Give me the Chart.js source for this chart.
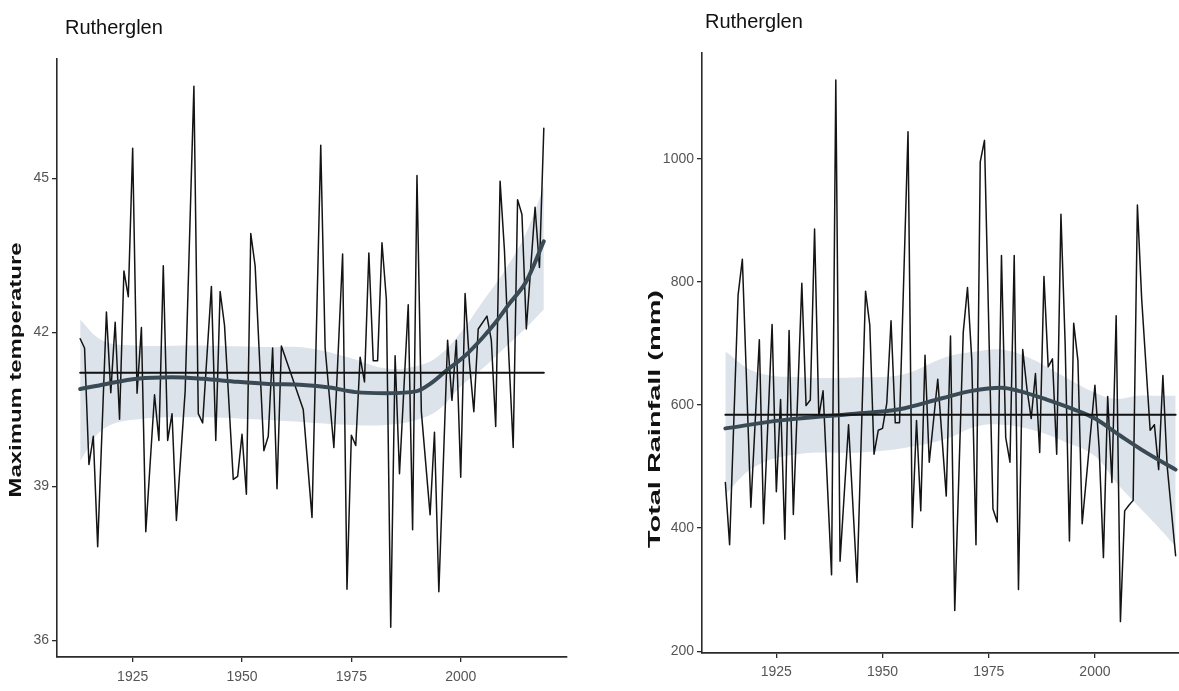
<!DOCTYPE html>
<html>
<head>
<meta charset="utf-8">
<script src="https://cdn.jsdelivr.net/npm/chart.js@4"></script>
<style>
  html, body { margin: 0; padding: 0; background: #fff; overflow: hidden; }
  body { width: 1179px; height: 691px; position: relative; }
  canvas { position: absolute; top: 0; }
  #temp-chart { left: 0; }
  #rain-chart { left: 590px; }
</style>
</head>
<body>
<canvas id="temp-chart" width="590" height="691"></canvas>
<canvas id="rain-chart" width="612" height="691"></canvas>
<script>
// Rutherglen - yearly maximum temperature and total rainfall

const yearTicks = [1925, 1950, 1975, 2000];
const tempTicks = [36, 39, 42, 45];
const rainTicks = [200, 400, 600, 800, 1000];

// maximum temperature (turning points of the yearly line)
const tempYears = [1913, 1914, 1915, 1916, 1917, 1919, 1920, 1921, 1922, 1923, 1924, 1925, 1926, 1927, 1928,
  1930, 1931, 1932, 1933, 1934, 1935, 1937, 1939, 1940, 1941, 1943, 1944, 1945, 1946, 1948, 1949, 1950,
  1951, 1952, 1953, 1955, 1956, 1957, 1958, 1959, 1964, 1966, 1968, 1969, 1971, 1973, 1974, 1975, 1976,
  1977, 1978, 1979, 1980, 1981, 1982, 1983, 1984, 1985, 1986, 1988, 1989, 1990, 1991, 1993, 1994, 1995,
  1997, 1998, 1999, 2000, 2001, 2002, 2003, 2004, 2006, 2007, 2008, 2009, 2010, 2011, 2012, 2013, 2014,
  2015, 2017, 2018, 2019];
const tempValues = [41.88, 41.7, 39.43, 39.98, 37.83, 42.4, 40.83, 42.2, 40.31, 43.2, 42.7, 45.59, 40.82, 42.1, 38.12,
  40.79, 39.9, 43.3, 39.9, 40.42, 38.34, 40.86, 46.8, 40.42, 40.24, 42.9, 39.9, 42.8, 42.14, 39.14, 39.2, 40.02,
  38.85, 43.93, 43.3, 39.7, 39.98, 41.7, 38.96, 41.74, 40.5, 38.4, 45.65, 41.7, 39.76, 43.53, 37.0, 40.0, 39.8,
  41.52, 41.04, 43.55, 41.45, 41.45, 43.75, 42.65, 36.26, 41.55, 39.25, 42.54, 38.16, 45.06, 40.46, 38.45, 40.06, 36.95,
  41.85, 40.68, 41.85, 39.18, 42.76, 41.41, 40.46, 42.07, 42.32, 41.85, 40.17, 44.95, 43.6, 41.55, 39.76, 44.59, 44.3,
  42.07, 44.44, 43.27, 45.98];
const tempMean = 41.22;
const tempSmoothYears = [1913, 1919, 1926, 1934, 1941, 1949, 1956, 1964, 1970, 1976, 1983, 1990, 1993, 1997, 2001, 2005, 2008, 2011, 2015, 2019];
const tempSmoothValues = [40.9, 41.0, 41.1, 41.13, 41.1, 41.04, 41.0, 40.98, 40.93, 40.84, 40.82, 40.86, 41.0, 41.28, 41.55, 41.9, 42.2, 42.55, 43.0, 43.78];
const tempBandYears = [1913, 1918, 1925, 1940, 1955, 1965, 1975, 1983, 1990, 1995, 2000, 2005, 2010, 2015, 2019];
const tempBandUpper = [42.25, 41.85, 41.75, 41.75, 41.72, 41.7, 41.5, 41.3, 41.35, 41.55, 42.0, 42.6, 43.2, 43.95, 44.85];
const tempBandLower = [39.5, 40.1, 40.3, 40.35, 40.3, 40.25, 40.2, 40.2, 40.3, 40.5, 40.95, 41.3, 41.7, 42.1, 42.45];

// total rainfall (mm)
const rainYears = [1913, 1914, 1916, 1917, 1919, 1921, 1922, 1924, 1925, 1926, 1927, 1928, 1929, 1931, 1932, 1933,
  1934, 1935, 1936, 1938, 1939, 1940, 1942, 1944, 1946, 1947, 1948, 1949, 1950, 1951, 1952, 1953, 1954, 1956,
  1957, 1958, 1959, 1960, 1961, 1963, 1965, 1966, 1967, 1969, 1970, 1971, 1972, 1973, 1974, 1976, 1977, 1978,
  1979, 1980, 1981, 1982, 1983, 1984, 1985, 1986, 1987, 1988, 1989, 1990, 1991, 1992, 1993, 1994, 1995, 1996,
  1997, 2000, 2001, 2002, 2003, 2004, 2005, 2006, 2007, 2008, 2009, 2010, 2011, 2013, 2014, 2015, 2016, 2017, 2019];
const rainValues = [474, 373, 779, 837, 434, 706, 407, 731, 459, 609, 382, 721, 422, 798, 599, 608,
  886, 581, 623, 324, 1128, 346, 568, 312, 785, 730, 520, 559, 562, 603, 737, 571, 571, 1044,
  401, 575, 428, 681, 507, 642, 452, 712, 266, 718, 791, 675, 373, 995, 1030, 431, 410, 843,
  547, 507, 843, 300, 690, 626, 578, 651, 523, 809, 662, 675, 520, 910, 697, 379, 733, 672,
  407, 632, 529, 352, 614, 474, 745, 248, 428, 437, 445, 925, 773, 559, 568, 495, 648, 501, 355];
const rainMean = 584;
const rainSmoothYears = [1913, 1926, 1942, 1954, 1964, 1971, 1978, 1982, 1989, 1995, 2000, 2006, 2012, 2019];
const rainSmoothValues = [562, 575, 585, 593, 611, 623, 628, 623, 608, 593, 578, 550, 523, 495];
const rainBandYears = [1913, 1920, 1930, 1945, 1955, 1965, 1972, 1978, 1985, 1993, 2000, 2005, 2010, 2015, 2019];
const rainBandUpper = [687, 654, 645, 645, 650, 678, 687, 690, 675, 645, 620, 610, 615, 615, 615];
const rainBandLower = [455, 500, 520, 523, 530, 545, 565, 568, 560, 540, 517, 474, 437, 401, 370];

const FONT = '"Liberation Sans", Arial, sans-serif';
const AXIS = '#2b2b2b';
const TICK = '#555';
const BAND_FILL = '#dde3ea';

Chart.defaults.font.family = FONT;

const pts = (xs, ys) => xs.map((x, i) => ({ x: x, y: ys[i] }));

// title and stretched y title, drawn on top of the chart
const textPlugin = {
  id: 'panelText',
  afterDraw(chart, args, o) {
    const ctx = chart.ctx;
    ctx.save();
    ctx.fillStyle = '#111';
    ctx.font = '20px ' + FONT;
    ctx.textAlign = 'left';
    ctx.textBaseline = 'middle';
    ctx.fillText(o.title, o.titleX, o.titleY);

    ctx.font = 'bold 17px ' + FONT;
    const w = ctx.measureText(o.yTitle).width;
    ctx.translate(o.yTitleX, o.yTitleY);
    ctx.rotate(-Math.PI / 2);
    ctx.scale(o.yTitleLen / w, 1);
    ctx.textAlign = 'center';
    ctx.fillText(o.yTitle, 0, 0);
    ctx.restore();
  }
};

function buildChart(id, opts) {
  const ctx = document.getElementById(id).getContext('2d');
  const first = opts.years[0];
  const last = opts.years[opts.years.length - 1];
  return new Chart(ctx, {
    type: 'line',
    data: {
      datasets: [
        { data: pts(opts.bandYears, opts.bandUpper), borderWidth: 0, backgroundColor: BAND_FILL, fill: '+1', tension: 0.4, order: 4 },
        { data: pts(opts.bandYears, opts.bandLower), borderWidth: 0, fill: false, tension: 0.4, order: 4 },
        { data: pts(opts.years, opts.values), borderColor: '#141414', borderWidth: 1.5, fill: false, order: 3 },
        { data: pts(opts.smoothYears, opts.smoothValues), borderColor: '#3a4a54', borderWidth: 4, fill: false,
          cubicInterpolationMode: 'monotone', order: 2 },
        { data: [{ x: first, y: opts.mean }, { x: last, y: opts.mean }], borderColor: '#111', borderWidth: 2, fill: false, order: 1 }
      ]
    },
    options: {
      responsive: false,
      animation: false,
      devicePixelRatio: 1,
      layout: { padding: opts.padding },
      elements: { point: { radius: 0 }, line: { borderCapStyle: 'round', borderJoinStyle: 'round' } },
      plugins: {
        legend: { display: false },
        tooltip: { enabled: false },
        panelText: opts.text
      },
      scales: {
        x: {
          type: 'linear',
          min: opts.xMin,
          max: opts.xMax,
          afterBuildTicks: (s) => { s.ticks = yearTicks.map((v) => ({ value: v })); },
          afterFit: (s) => { s.height = opts.xHeight; },
          grid: { drawOnChartArea: false, drawTicks: true, tickLength: 5, color: AXIS, lineWidth: 1.3 },
          border: { display: true, color: AXIS, width: 1.8 },
          ticks: { font: { size: 14 }, color: TICK, padding: opts.xLabelPad, maxRotation: 0, callback: (v) => String(v) }
        },
        y: {
          type: 'linear',
          min: opts.yMin,
          max: opts.yMax,
          afterBuildTicks: (s) => { s.ticks = opts.yTicks.map((v) => ({ value: v })); },
          afterFit: (s) => { s.width = opts.yWidth; },
          grid: { drawOnChartArea: false, drawTicks: true, tickLength: 5, color: AXIS, lineWidth: 1.3 },
          border: { display: true, color: AXIS, width: 1.6 },
          ticks: { font: { size: 14 }, color: TICK, padding: 3, callback: (v) => String(v) }
        }
      }
    },
    plugins: [textPlugin]
  });
}

buildChart('temp-chart', {
  years: tempYears, values: tempValues, mean: tempMean,
  smoothYears: tempSmoothYears, smoothValues: tempSmoothValues,
  bandYears: tempBandYears, bandUpper: tempBandUpper, bandLower: tempBandLower,
  xMin: 1907.7, xMax: 2024.3, yMin: 35.68, yMax: 47.33, yTicks: tempTicks,
  padding: { top: 59, right: 23, bottom: 0, left: 0 },
  xHeight: 34, yWidth: 57, xLabelPad: 7,
  text: { title: 'Rutherglen', titleX: 65, titleY: 28, yTitle: 'Maximum temperature', yTitleX: 16, yTitleY: 370, yTitleLen: 255 }
});

buildChart('rain-chart', {
  years: rainYears, values: rainValues, mean: rainMean,
  smoothYears: rainSmoothYears, smoothValues: rainSmoothValues,
  bandYears: rainBandYears, bandUpper: rainBandUpper, bandLower: rainBandLower,
  xMin: 1907.5, xMax: 2024.5, yMin: 197, yMax: 1172, yTicks: rainTicks,
  padding: { top: 53, right: 3, bottom: 0, left: 0 },
  xHeight: 38, yWidth: 112, xLabelPad: 6,
  text: { title: 'Rutherglen', titleX: 115, titleY: 22, yTitle: 'Total Rainfall (mm)', yTitleX: 65, yTitleY: 419, yTitleLen: 258 }
});
</script>
</body>
</html>
